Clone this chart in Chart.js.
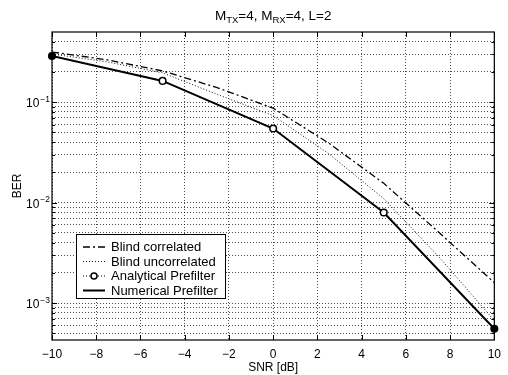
<!DOCTYPE html>
<html><head><meta charset="utf-8">
<script src="https://cdn.jsdelivr.net/npm/chart.js@4.4.1/dist/chart.umd.min.js"></script>
<style>html,body{margin:0;padding:0;background:#fff}#wrap{width:508px;height:375px}canvas{display:block}</style>
</head><body><div id="wrap"><canvas id="c" width="508" height="375"></canvas></div>
<script>
const snrCoarse = [-10, -5, 0, 5, 10];
const snrFine = [-10, -7.5, -5, -2.5, 0, 2.5, 5, 7.5, 10];
const blindCorrelated = [0.316, 0.264, 0.205, 0.139, 0.0872, 0.0394, 0.0156, 0.00505, 0.00160];
const blindUncorrelated = [0.302, 0.252, 0.196, 0.119, 0.0735, 0.0309, 0.01096, 0.00288, 0.000671];
const analyticalPrefilter = [0.288, 0.163, 0.0547, 0.0080, 0.000556];
const numericalPrefilter = [0.288, 0.163, 0.0547, 0.0080, 0.000556];
const seriesLabels = ['Blind correlated', 'Blind uncorrelated', 'Analytical Prefilter', 'Numerical Prefilter'];
const xTicks = [-10, -8, -6, -4, -2, 0, 2, 4, 6, 8, 10];
const yDecades = [1e-3, 1e-2, 1e-1];
const yDecadeLabels = ['−3', '−2', '−1'];
const yMin = 4.3e-4, yMax = 0.5;
const titleParts = [['M', 0], ['TX', 1], ['=4, M', 0], ['RX', 1], ['=4, L=2', 0]];

const gridVals = [];
[1e-4, 1e-3, 1e-2, 1e-1].forEach(d => {
  for (let f = 1; f <= 9; f++) {
    const v = +(d * f).toPrecision(3);
    if (v > yMin && v < yMax) gridVals.push(v);
  }
});

const FONT = '"Liberation Sans", Arial, Helvetica, sans-serif';
const gridColor = 'rgba(0,0,0,0.7)';

const pts = (xs, ys) => xs.map((x, i) => ({x, y: ys[i]}));

const dsStyles = [
  {borderColor: '#000', borderWidth: 1.3, borderDash: [7, 3, 2, 3], pointRadius: 0},
  {borderColor: '#111', borderWidth: 1, borderDash: [1, 2], pointRadius: 0},
  {borderColor: '#000', borderWidth: 1, borderDash: [1, 2], pointRadius: [3.3, 3.3, 3.3, 3.3, 3.3],
   pointBorderWidth: 1.5, pointBorderColor: '#000',
   pointBackgroundColor: ['#000', '#fff', '#fff', '#fff', '#000'], clip: false},
  {borderColor: '#000', borderWidth: 2, pointRadius: 0}
];

const decor = {
  id: 'decor',
  afterDatasetsDraw(chart) {
    const {ctx, chartArea: a, scales: {x, y}} = chart;
    ctx.save();
    // box
    ctx.strokeStyle = '#000';
    ctx.lineWidth = 1.2;
    ctx.setLineDash([]);
    ctx.strokeRect(a.left, a.top, a.right - a.left, a.bottom - a.top);
    // inward tick marks
    ctx.lineWidth = 1;
    ctx.beginPath();
    xTicks.forEach(v => {
      const px = Math.round(x.getPixelForValue(v)) + 0.5;
      ctx.moveTo(px, a.bottom); ctx.lineTo(px, a.bottom - 5);
      ctx.moveTo(px, a.top); ctx.lineTo(px, a.top + 5);
    });
    gridVals.forEach(v => {
      const major = yDecades.includes(v);
      const len = major ? 5 : 3;
      const py = Math.round(y.getPixelForValue(v)) + 0.5;
      ctx.moveTo(a.left, py); ctx.lineTo(a.left + len, py);
      ctx.moveTo(a.right, py); ctx.lineTo(a.right - len, py);
    });
    ctx.stroke();
    // y tick labels 10^n
    ctx.fillStyle = '#000';
    yDecades.forEach((v, i) => {
      const py = y.getPixelForValue(v);
      ctx.font = '8.5px ' + FONT;
      ctx.textAlign = 'right';
      ctx.textBaseline = 'alphabetic';
      const ew = ctx.measureText(yDecadeLabels[i]).width;
      ctx.fillText(yDecadeLabels[i], a.left - 2, py - 0.5);
      ctx.font = '12px ' + FONT;
      ctx.fillText('10', a.left - 3 - ew, py + 5);
    });
    // title with subscripts
    const mainF = '13.5px ' + FONT, subF = '9.5px ' + FONT;
    let tw = 0;
    titleParts.forEach(([t, s]) => { ctx.font = s ? subF : mainF; tw += ctx.measureText(t).width; });
    let tx = (a.left + a.right) / 2 - tw / 2;
    ctx.textAlign = 'left';
    titleParts.forEach(([t, s]) => {
      ctx.font = s ? subF : mainF;
      ctx.fillText(t, tx, s ? 23 : 20);
      tx += ctx.measureText(t).width;
    });
    // legend
    const lx = 76, ly = 234, lw = 149, lh = 64;
    ctx.fillStyle = '#fff';
    ctx.fillRect(lx, ly, lw, lh);
    ctx.strokeStyle = '#000';
    ctx.lineWidth = 1;
    ctx.strokeRect(lx + 0.5, ly + 0.5, lw, lh);
    seriesLabels.forEach((lab, i) => {
      const st = dsStyles[i];
      const yy = ly + 13 + i * 14.5;
      ctx.beginPath();
      ctx.setLineDash(st.borderDash || []);
      ctx.lineWidth = st.borderWidth;
      ctx.strokeStyle = st.borderColor;
      ctx.moveTo(83, yy); ctx.lineTo(105, yy);
      ctx.stroke();
      ctx.setLineDash([]);
      if (i === 2) {
        ctx.beginPath();
        ctx.arc(94, yy, 3, 0, Math.PI * 2);
        ctx.fillStyle = '#fff'; ctx.fill();
        ctx.lineWidth = 1.5; ctx.strokeStyle = '#000'; ctx.stroke();
      }
      ctx.fillStyle = '#000';
      ctx.font = '13px ' + FONT;
      ctx.textBaseline = 'middle';
      ctx.fillText(lab, 111, yy + 0.5);
    });
    ctx.restore();
  }
};

const data = {
  datasets: [
    Object.assign({label: seriesLabels[0], data: pts(snrFine, blindCorrelated)}, dsStyles[0]),
    Object.assign({label: seriesLabels[1], data: pts(snrFine, blindUncorrelated)}, dsStyles[1]),
    Object.assign({label: seriesLabels[2], data: pts(snrCoarse, analyticalPrefilter)}, dsStyles[2]),
    Object.assign({label: seriesLabels[3], data: pts(snrCoarse, numericalPrefilter)}, dsStyles[3])
  ]
};
data.datasets.forEach(d => { d.fill = false; d.tension = 0; });

new Chart(document.getElementById('c'), {
  type: 'line',
  data,
  options: {
    responsive: false,
    animation: false,
    devicePixelRatio: 1,
    layout: {padding: {left: 0, right: 11, top: 32, bottom: 0}},
    plugins: {legend: {display: false}, tooltip: {enabled: false}, title: {display: false}},
    scales: {
      x: {
        type: 'linear', min: -10, max: 10,
        afterBuildTicks: s => { s.ticks = xTicks.map(v => ({value: v})); },
        afterFit: s => { s.height = 35; },
        ticks: {
          color: '#000', padding: 7, maxRotation: 0, autoSkip: false,
          font: {family: FONT, size: 12},
          callback: v => (v < 0 ? '−' + Math.abs(v) : String(v))
        },
        grid: {color: gridColor, lineWidth: 1, drawTicks: false},
        border: {display: false, dash: [1, 2]},
        title: {display: true, text: 'SNR [dB]', color: '#000', font: {family: FONT, size: 12}, padding: {top: 3, bottom: 0}}
      },
      y: {
        type: 'logarithmic', min: yMin, max: yMax,
        afterBuildTicks: s => { s.ticks = gridVals.map(v => ({value: v})); },
        afterFit: s => { s.width = 52; },
        ticks: {display: false},
        grid: {color: gridColor, lineWidth: 1, drawTicks: false},
        border: {display: false, dash: [1, 2]},
        title: {display: true, text: 'BER', color: '#000', font: {family: FONT, size: 12}, padding: {top: 10, bottom: 0}}
      }
    }
  },
  plugins: [decor]
});
</script>
</body></html>
